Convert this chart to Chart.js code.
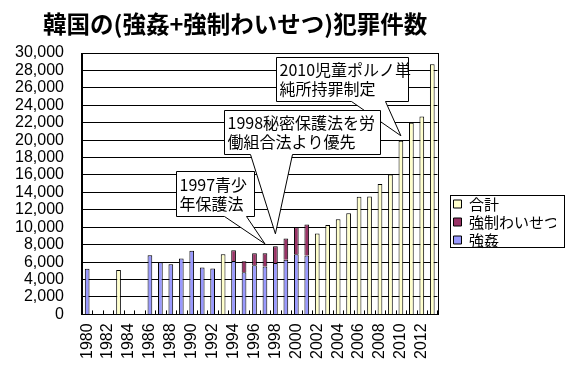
<!DOCTYPE html>
<html>
<head>
<meta charset="utf-8">
<script src="https://cdn.jsdelivr.net/npm/chart.js@4/dist/chart.umd.min.js"></script>
<style>
  html, body { margin: 0; padding: 0; background: #fff; }
</style>
</head>
<body>
<canvas id="crime-canvas" width="573" height="365"></canvas>
<script>
const canvas = document.querySelector('#crime-canvas');

const titleText = '韓国の(強姦+強制わいせつ)犯罪件数';

const years = ['1980', '1981', '1982', '1983', '1984', '1985', '1986', '1987', '1988', '1989',
  '1990', '1991', '1992', '1993', '1994', '1995', '1996', '1997', '1998', '1999',
  '2000', '2001', '2002', '2003', '2004', '2005', '2006', '2007', '2008', '2009',
  '2010', '2011', '2012', '2013'];

// 強姦
const rapeCounts = [5230, null, null, null, null, null, 6800, 6000, 5750, 6420,
  7310, 5390, 5260, null, 6120, 4830, 5630, 5500, 5910, 6270,
  6890, 6770, null, null, null, null, null, null, null, null,
  null, null, null, null];

// 強制わいせつ
const indecentCounts = [null, null, null, null, null, null, null, null, null, null,
  null, null, null, null, 1230, 1260, 1390, 1520, 1920, 2440,
  3100, 3560, null, null, null, null, null, null, null, null,
  null, null, null, null];

// 合計 (内訳なしの年)
const totalCounts = [null, null, null, 5110, null, null, null, null, null, null,
  null, null, null, 6890, null, null, null, null, null, null,
  null, null, 9290, 10260, 10920, 11610, 13500, 13530, 14980, 16060,
  19940, 21990, 22720, 28720];

const yTickValues = [0, 2000, 4000, 6000, 8000, 10000, 12000, 14000, 16000,
  18000, 20000, 22000, 24000, 26000, 28000, 30000];

// callouts: tip at (year, value), box offset from tip in px
const notes = [
  { lines: ['2010児童ポルノ単', '純所持罪制定'], year: '2010', value: 20500, dx: -125, dy: -79, w: 132, h: 44, base: [75, 109] },
  { lines: ['1998秘密保護法を労', '働組合法より優先'], year: '1998', value: 9250, dx: -51, dy: -124, w: 156, h: 44, base: [26, 68] },
  { lines: ['1997青少', '年保護法'], year: '1997', value: 8100, dx: -89, dy: -73, w: 78, h: 45, base: [48, 70] }
];

const jpFont = '"Noto Sans CJK JP", sans-serif';
const numFont = '"Liberation Sans", Arial, sans-serif';

const framePlugin = {
  id: 'frame',
  beforeDatasetsDraw(chart) {
    const { ctx, chartArea: a } = chart;
    const xs = chart.scales.x;
    ctx.save();
    ctx.strokeStyle = '#000';
    ctx.lineWidth = 1;
    ctx.strokeRect(Math.round(a.left) + 0.5, Math.round(a.top) + 0.5,
      Math.round(a.right - a.left), Math.round(a.bottom - a.top));
    // small inside tick marks on the category axis
    ctx.beginPath();
    for (let i = 0; i <= years.length; i++) {
      const px = Math.round(xs.getPixelForValue(i - 0.5)) + 0.5;
      ctx.moveTo(px, a.bottom);
      ctx.lineTo(px, a.bottom - 4);
    }
    ctx.stroke();
    ctx.restore();
  },
  afterLayout(chart) {
    const lg = chart.legend;
    const a = chart.chartArea;
    lg.left = a.right + 13;
    lg.top = a.top + 140.5;
  },
  afterDraw(chart) {
    const { ctx, chartArea: a } = chart;
    ctx.save();
    // title
    ctx.fillStyle = '#000';
    ctx.font = 'bold 23.5px ' + jpFont;
    ctx.textBaseline = 'middle';
    ctx.textAlign = 'left';
    ctx.fillText(titleText, 43, 24);
    // legend frame
    ctx.strokeStyle = '#000';
    ctx.lineWidth = 1;
    ctx.strokeRect(Math.round(a.right + 13) + 0.5, Math.round(a.top + 142) + 0.5, 114, 52);
    ctx.restore();
  }
};

const calloutPlugin = {
  id: 'callouts',
  afterDatasetsDraw(chart) {
    const { ctx } = chart;
    const xs = chart.scales.x, ys = chart.scales.y;
    ctx.save();
    ctx.lineWidth = 1;
    ctx.strokeStyle = '#000';
    notes.forEach(n => {
      const tx = xs.getPixelForValue(years.indexOf(n.year));
      const ty = ys.getPixelForValue(n.value);
      const bx = Math.round(tx + n.dx) + 0.5;
      const by = Math.round(ty + n.dy) + 0.5;
      ctx.beginPath();
      ctx.moveTo(bx, by);
      ctx.lineTo(bx + n.w, by);
      ctx.lineTo(bx + n.w, by + n.h);
      ctx.lineTo(bx + n.base[1], by + n.h);
      ctx.lineTo(tx, ty);
      ctx.lineTo(bx + n.base[0], by + n.h);
      ctx.lineTo(bx, by + n.h);
      ctx.closePath();
      ctx.fillStyle = '#fff';
      ctx.fill();
      ctx.stroke();
      ctx.fillStyle = '#000';
      ctx.font = '16px ' + jpFont;
      ctx.textBaseline = 'middle';
      ctx.textAlign = 'left';
      const cy = by + n.h / 2;
      ctx.fillText(n.lines[0], bx + 3, cy - 9.5);
      ctx.fillText(n.lines[1], bx + 3, cy + 9.5);
    });
    ctx.restore();
  }
};

const chartObject = new Chart(canvas, {
  type: 'bar',
  data: {
    labels: years,
    datasets: [{
      label: '強姦',
      data: rapeCounts,
      backgroundColor: '#9999ff',
      borderColor: '#000',
      borderWidth: 1
    }, {
      label: '強制わいせつ',
      data: indecentCounts,
      backgroundColor: '#993366',
      borderColor: '#000',
      borderWidth: 1
    }, {
      label: '合計',
      data: totalCounts,
      backgroundColor: '#ffffcc',
      borderColor: '#000',
      borderWidth: 1
    }]
  },
  options: {
    responsive: false,
    animation: false,
    devicePixelRatio: 1,
    layout: {
      padding: { top: 53, left: -3, right: 17, bottom: -3 }
    },
    datasets: {
      bar: { barPercentage: 0.45, categoryPercentage: 1 }
    },
    plugins: {
      title: { display: false },
      tooltip: { enabled: false },
      legend: {
        position: 'right',
        align: 'start',
        reverse: true,
        labels: {
          boxWidth: 8,
          boxHeight: 8,
          padding: 3,
          color: '#000',
          font: { size: 15, family: jpFont }
        }
      }
    },
    scales: {
      x: {
        stacked: true,
        grid: { display: false, drawTicks: false },
        border: { display: true, color: '#000' },
        ticks: {
          autoSkip: false,
          minRotation: 90,
          maxRotation: 90,
          padding: 9,
          color: '#000',
          font: { size: 16, family: numFont },
          callback: (v, i) => (i % 2 === 0 ? years[i] : '')
        }
      },
      y: {
        stacked: true,
        min: 0,
        max: 30000,
        afterBuildTicks: axis => {
          axis.ticks = yTickValues.map(v => ({ value: v }));
        },
        grid: { color: '#000', lineWidth: 1, drawTicks: false },
        border: { display: true, color: '#000' },
        ticks: {
          autoSkip: false,
          padding: 18,
          color: '#000',
          font: { size: 16, family: numFont },
          callback: v => v.toLocaleString('en-US')
        }
      }
    }
  },
  plugins: [framePlugin, calloutPlugin]
});
</script>
</body>
</html>
